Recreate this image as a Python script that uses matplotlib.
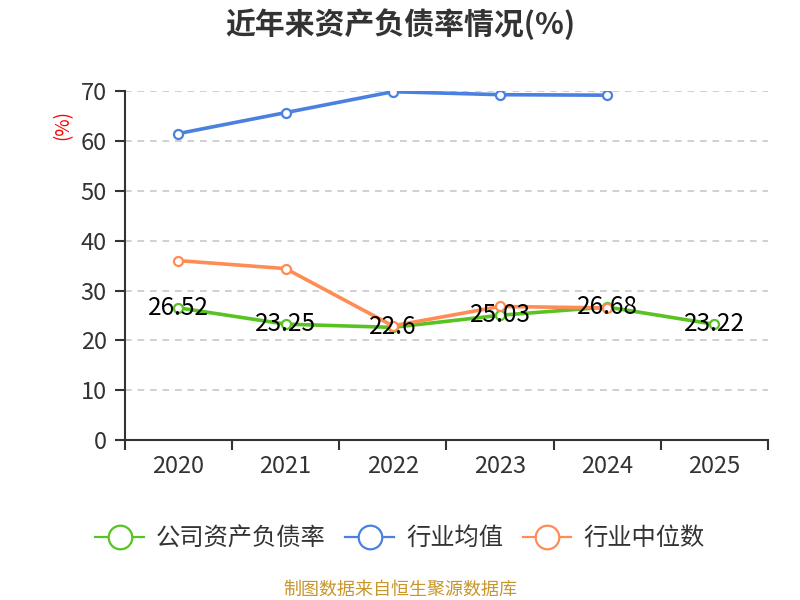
import matplotlib
matplotlib.use("Agg")
import matplotlib.pyplot as plt
from matplotlib.lines import Line2D

plt.rcParams['font.family'] = ['Noto Sans CJK SC', 'DejaVu Sans']

years = ['2020', '2021', '2022', '2023', '2024', '2025']
company = [26.52, 23.25, 22.6, 25.03, 26.68, 23.22]
industry_avg = [61.5, 65.7, 69.9, 69.3, 69.2]
industry_median = [36.0, 34.4, 22.9, 26.8, 26.5]
yticks = [0, 10, 20, 30, 40, 50, 60, 70]

green = '#58c322'
blue = '#4a80e0'
orange = '#ff8c55'
dark = '#333333'

fig = plt.figure(figsize=(8, 6), dpi=100)
ax = fig.add_axes([0.156, 0.2667, 0.804, 0.5813])

x_all = list(range(len(years)))
ax.set_xlim(-0.5, len(years) - 0.5)
ax.set_ylim(0, 70)

for y in yticks[1:]:
    ax.axhline(y, color='#c8c8c8', lw=1.2, ls=(0, (4, 3.5)), zorder=0)

mk = dict(marker='o', markersize=6.5, markerfacecolor='white', markeredgewidth=1.6)
ax.plot(x_all, company, color=green, lw=2.6, markeredgecolor=green, zorder=3, **mk)
ax.plot(x_all[:len(industry_avg)], industry_avg, color=blue, lw=2.6, markeredgecolor=blue, zorder=4, **mk)
ax.plot(x_all[:len(industry_median)], industry_median, color=orange, lw=2.6, markeredgecolor=orange, zorder=4, **mk)

for xi, v in zip(x_all, company):
    ax.text(xi, v, f'{v:g}', ha='center', va='center', fontsize=17.5, color='black', zorder=6)

# axes styling
for s in ['top', 'right']:
    ax.spines[s].set_visible(False)
ax.spines['left'].set_color(dark)
ax.spines['bottom'].set_color(dark)
ax.spines['left'].set_linewidth(1.5)
ax.spines['bottom'].set_linewidth(1.5)

ax.set_yticks(yticks)
ax.set_yticklabels([str(t) for t in yticks])
ax.tick_params(axis='y', length=7, width=1.5, color=dark, labelcolor=dark, labelsize=17, pad=6)

ax.set_xticks([i - 0.5 for i in range(len(years) + 1)])
ax.set_xticklabels([])
ax.tick_params(axis='x', which='major', length=7, width=1.5, color=dark)
ax.set_xticks(x_all, minor=True)
ax.set_xticklabels(years, minor=True)
ax.tick_params(axis='x', which='minor', length=0, labelsize=17, labelcolor=dark, pad=11)

fig.text(0.079, 0.792, '(%)', color='red', rotation=90, fontsize=13.5, ha='center', va='center')

fig.text(0.5, 0.960, '近年来资产负债率情况(%)', ha='center', va='center', fontsize=21.5,
         fontweight='bold', color=dark)

handles = [
    Line2D([0], [0], color=c, lw=1.6, marker='o', markersize=17, markerfacecolor='white',
           markeredgecolor=c, markeredgewidth=1.6)
    for c in (green, blue, orange)
]
fig.legend(handles, ['公司资产负债率', '行业均值', '行业中位数'], loc='center', bbox_to_anchor=(0.5, 0.103),
           ncol=3, frameon=False, fontsize=17.5, handlelength=2.0, handletextpad=0.5, columnspacing=0.8,
           labelcolor=dark)

fig.text(0.5, 0.017, '制图数据来自恒生聚源数据库', ha='center', va='center', fontsize=13, color='#c8962a')

fig.savefig('out.png', dpi=100)
